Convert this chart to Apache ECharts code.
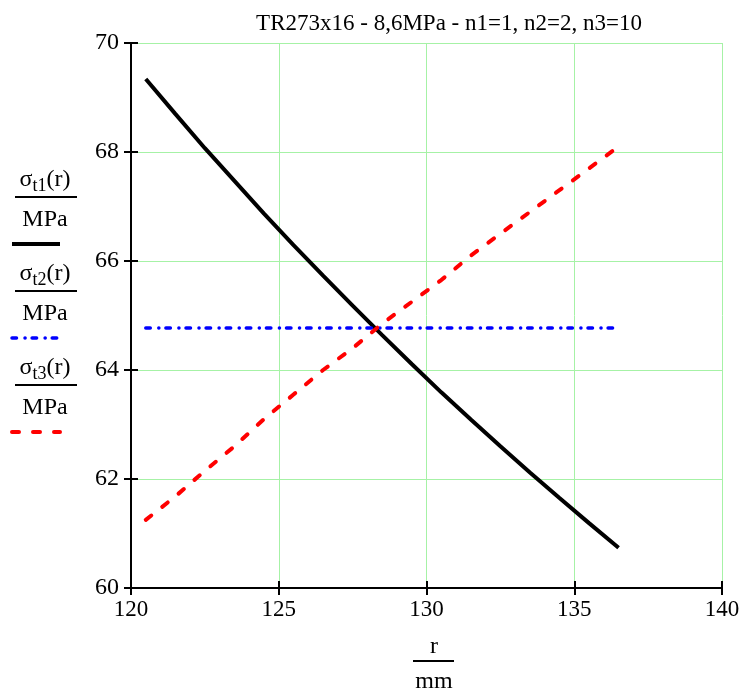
<!DOCTYPE html>
<html>
<head>
<meta charset="utf-8">
<script src="https://cdn.jsdelivr.net/npm/echarts@6/dist/echarts.min.js"></script>
<style>
html,body{margin:0;padding:0;background:#fff;}
#c{width:744px;height:691px;}
</style>
</head>
<body>
<div id="c"></div>
<script>
var titleText = 'TR273x16 - 8,6MPa - n1=1, n2=2, n3=10';
var rValues = [120.5,121.5,122.5,123.5,124.5,125.5,126.5,127.5,128.5,129.5,130.5,131.5,132.5,133.5,134.5,135.5,136.5];
var sigmaT1 = [69.34,68.70,68.07,67.47,66.87,66.29,65.73,65.18,64.64,64.11,63.59,63.09,62.60,62.12,61.65,61.19,60.74];
var sigmaT2 = [64.77,64.77,64.77,64.77,64.77,64.77,64.77,64.77,64.77,64.77,64.77,64.77,64.77,64.77,64.77,64.77,64.77];
var sigmaT3 = [61.25,61.68,62.15,62.60,63.10,63.55,64.00,64.40,64.85,65.25,65.65,66.10,66.50,66.90,67.30,67.70,68.10];
var xTicks = {min:120, max:140, interval:5};
var yTicks = {min:60, max:70, interval:2};
var legendNames = [['t1','(r)'],['t2','(r)'],['t3','(r)']];

function pairs(xs, ys){ return xs.map(function(x,i){ return [x, ys[i]]; }); }

var FONT = '"Liberation Serif","DejaVu Serif",serif';
var FS = 23;
var LFS = 24;
var chart = echarts.init(document.getElementById('c'));

var graphics = [];
var legendY = [180, 274, 368];
var sampleStyles = [
  {stroke:'#000', lineWidth:4},
  {stroke:'#0000ff', lineWidth:3.5, lineDash:[4.5,8.5,0.1,7], lineCap:'round'},
  {stroke:'#ff0000', lineWidth:4, lineDash:[7,14], lineCap:'round'}
];
legendNames.forEach(function(n, i){
  var y = legendY[i];
  graphics.push({type:'text', x:45, y:y, style:{
    text:'{a|σ}{s|' + n[0] + '}{a|' + n[1] + '}',
    align:'center', verticalAlign:'middle',
    rich:{a:{fontFamily:FONT,fontSize:LFS,fill:'#000'}, s:{fontFamily:FONT,fontSize:18,fill:'#000',padding:[13,0,0,0]}}
  }});
  graphics.push({type:'line', shape:{x1:15,y1:y+17,x2:77,y2:y+17}, style:{stroke:'#000',lineWidth:2}});
  graphics.push({type:'text', x:45, y:y+40, style:{text:'MPa',fontFamily:FONT,fontSize:LFS,fill:'#000',align:'center',verticalAlign:'middle'}});
  graphics.push({type:'line', shape:{x1:12,y1:y+64,x2:60,y2:y+64}, style:sampleStyles[i]});
});
// x axis title r / mm
graphics.push({type:'text', x:434, y:647, style:{text:'r',fontFamily:FONT,fontSize:LFS,fill:'#000',align:'center',verticalAlign:'middle'}});
graphics.push({type:'line', shape:{x1:413,y1:661,x2:454,y2:661}, style:{stroke:'#000',lineWidth:2}});
graphics.push({type:'text', x:434, y:682, style:{text:'mm',fontFamily:FONT,fontSize:LFS,fill:'#000',align:'center',verticalAlign:'middle'}});

var gridLineColor = '#a6f2a6';
chart.setOption({
  animation:false,
  backgroundColor:'#fff',
  title:{text:titleText, left:444, top:7, textAlign:'center',
    textStyle:{fontFamily:FONT,fontSize:FS,fontWeight:'normal',color:'#000'}},
  grid:{left:131, right:22, top:43, bottom:103},
  xAxis:[{
    type:'value', min:xTicks.min, max:xTicks.max, interval:xTicks.interval,
    axisLine:{lineStyle:{color:'#000',width:2}},
    axisTick:{length:7,lineStyle:{color:'#000',width:2}},
    axisLabel:{fontFamily:FONT,fontSize:FS,color:'#000',margin:10},
    splitLine:{show:true,lineStyle:{color:gridLineColor,width:1}}
  },{
    type:'value', min:xTicks.min, max:xTicks.max, interval:xTicks.interval, position:'bottom',
    axisLine:{show:false}, axisLabel:{show:false}, splitLine:{show:false},
    axisTick:{inside:true,length:7,lineStyle:{color:'#000',width:2}}
  }],
  yAxis:[{
    type:'value', min:yTicks.min, max:yTicks.max, interval:yTicks.interval,
    axisLine:{show:true,lineStyle:{color:'#000',width:2}},
    axisTick:{show:true,length:7,lineStyle:{color:'#000',width:2}},
    axisLabel:{fontFamily:FONT,fontSize:FS+1,color:'#000',margin:12,verticalAlign:'middle',padding:[8,0,0,0]},
    splitLine:{show:true,lineStyle:{color:gridLineColor,width:1}}
  },{
    type:'value', min:yTicks.min, max:yTicks.max, interval:yTicks.interval, position:'left',
    axisLine:{show:false}, axisLabel:{show:false}, splitLine:{show:false},
    axisTick:{show:true,inside:true,length:7,lineStyle:{color:'#000',width:2}}
  }],
  graphic:graphics,
  series:[
    {type:'line', data:pairs(rValues,sigmaT1), showSymbol:false, symbol:'none',
      lineStyle:{color:'#000',width:4}},
    {type:'line', data:pairs(rValues,sigmaT2), showSymbol:false, symbol:'none',
      lineStyle:{color:'#0000ff',width:3.5,type:[4.5,8.5,0.1,7],cap:'round'}},
    {type:'line', data:pairs(rValues,sigmaT3), showSymbol:false, symbol:'none',
      lineStyle:{color:'#ff0000',width:4,type:[7,14],cap:'round'}}
  ]
});
</script>
</body>
</html>
